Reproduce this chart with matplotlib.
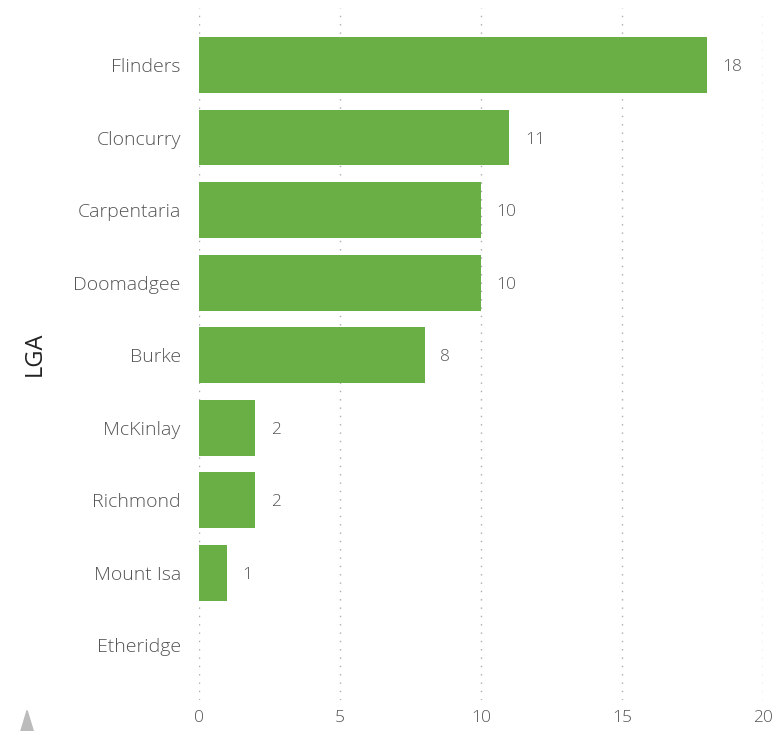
import matplotlib
matplotlib.use("Agg")
import matplotlib.pyplot as plt
from matplotlib.patches import Polygon

categories = ["Flinders", "Cloncurry", "Carpentaria", "Doomadgee", "Burke",
              "McKinlay", "Richmond", "Mount Isa", "Etheridge"]
values = [18, 11, 10, 10, 8, 2, 2, 1, 0]
xticks = [0, 5, 10, 15, 20]

plt.rcParams['font.family'] = ['Open Sans', 'DejaVu Sans']

fig = plt.figure(figsize=(7.74, 7.31), dpi=100)
ax = fig.add_axes([0.257, 0.042, 0.729, 0.947])

green = "#6aaf45"
ypos = list(range(len(categories)))
for y, v in zip(ypos, values):
    if v > 0:
        ax.barh(y, v, height=0.77, color=green, zorder=3)
        ax.text(v + 0.55, y + 0.03, str(v), va="center", ha="left", fontsize=12.5,
                color="#555555", fontweight="light")

ax.set_xlim(0, 20)
ax.set_ylim(8.76, -0.786)
ax.set_yticks(ypos)
ax.set_yticklabels(categories, fontsize=14, color="#555555", fontweight="light")
ax.set_xticks(xticks)
ax.set_xticklabels([str(t) for t in xticks], fontsize=12.5, color="#555555", fontweight="light")
ax.tick_params(axis="both", length=0)
ax.tick_params(axis="y", pad=13)
ax.tick_params(axis="x", pad=7)
for s in ax.spines.values():
    s.set_visible(False)
ax.xaxis.grid(True, linestyle=(0, (1, 5)), color="#aaaaaa", linewidth=1.0, zorder=0)
ax.yaxis.grid(False)
ax.set_ylabel("LGA", fontsize=17, color="#222222")
ax.yaxis.set_label_coords(-0.27, 0.5)

tri = Polygon([[0.027, 0.0], [0.043, 0.0], [0.035, 0.028]], closed=True,
              transform=fig.transFigure, color="#bbbbbb")
fig.patches.append(tri)

fig.savefig("out.png", dpi=100)
